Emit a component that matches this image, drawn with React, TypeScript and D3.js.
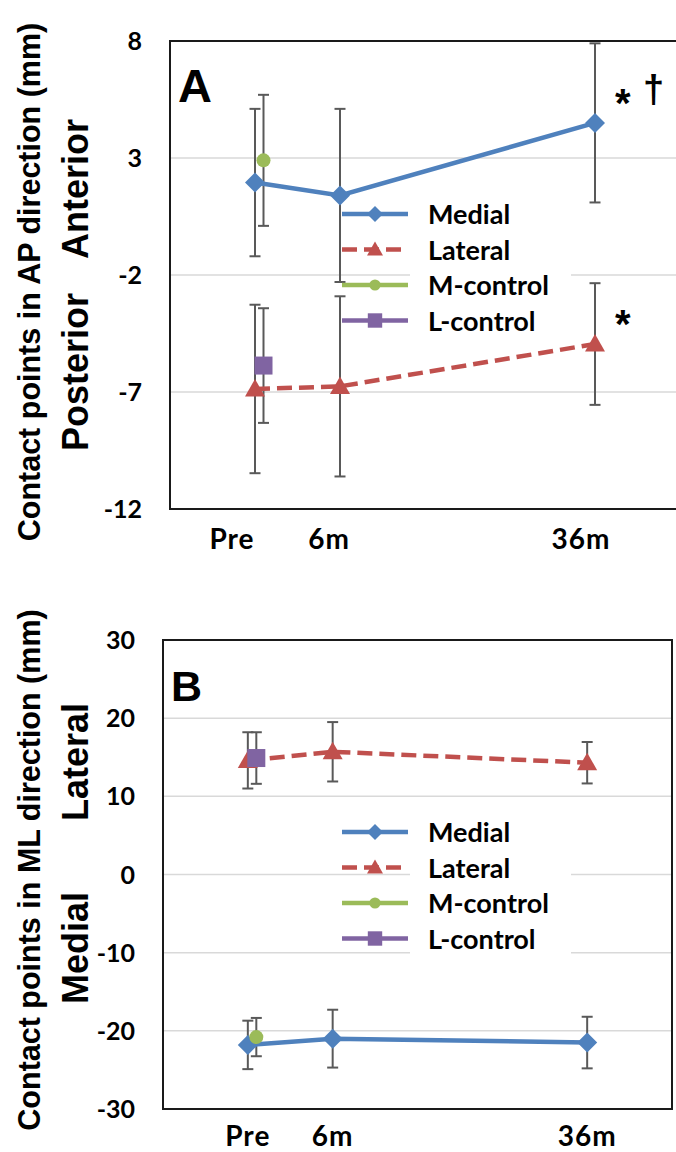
import * as d3 from "d3";

// time points: label and position on the (Excel-style) x axis
const timeLabels = ["Pre", "6m", "36m"];
const timeX = [0, 1, 4];

// panel A: AP direction (mm)
const apMedial = [1.95, 1.4, 4.5];
const apMedialErr = [3.15, 3.7, 3.4];
const apLateral = [-6.87, -6.76, -4.95];
const apLateralErr = [3.6, 3.85, 2.6];
const apMControl = [2.9];
const apMControlErr = [2.8];
const apLControl = [-5.87];
const apLControlErr = [2.45];

// panel B: ML direction (mm)
const mlMedial = [-21.8, -21.0, -21.5];
const mlMedialErr = [3.1, 3.7, 3.3];
const mlLateral = [14.6, 15.7, 14.3];
const mlLateralErr = [3.6, 3.8, 2.65];
const mlMControl = [-20.8];
const mlMControlErr = [2.45];
const mlLControl = [14.9];
const mlLControlErr = [3.3];

const legendNames = ["Medial", "Lateral", "M-control", "L-control"];
const colors = ["#4f81bd", "#c0504d", "#9bbb59", "#8064a2"];
const font = "Lato, 'Open Sans', sans-serif";
const arial = "'Liberation Sans', Arial, sans-serif";
const errColor = "#595959";
const controlShift = 0.1;

function Marker({ kind, x, y, s = 1 }: any) {
  const c = colors[kind];
  if (kind === 0) {
    const r = 10 * s;
    return <path d={`M${x},${y - r}L${x + r},${y}L${x},${y + r}L${x - r},${y}Z`} fill={c} />;
  }
  if (kind === 1) {
    const r = 10 * s;
    return <path d={`M${x},${y - r}L${x + r},${y + r * 0.75}L${x - r},${y + r * 0.75}Z`} fill={c} />;
  }
  if (kind === 2) return <circle cx={x} cy={y} r={7 * s} fill={c} />;
  const h = 9 * s;
  return <rect x={x - h} y={y - h} width={2 * h} height={2 * h} fill={c} />;
}

function Panel({ top, bottom, left, right, domain, step, letter, letterSize, series, labelDx, labelY, legendY, title, titleY, upper, lower, stars }: any) {
  const x = d3.scaleLinear().domain([-1, 5]).range([left, right]);
  const y = d3.scaleLinear().domain(domain).range([bottom, top]);
  const ticks = d3.range(domain[0], domain[1] + 0.01, step);
  const line = d3.line<[number, number]>().x((d) => x(d[0])).y((d) => y(d[1]));
  const pointsOf = (s: any, k: number): [number, number][] =>
    s.values.map((v: number, i: number) => [timeX[i] + (k >= 2 ? controlShift : 0), v]);
  return (
    <g>
      {ticks.slice(1, -1).map((t: number) => (
        <line key={t} x1={left} x2={right} y1={y(t)} y2={y(t)} stroke="#d9d9d9" strokeWidth={1.5} />
      ))}
      <rect x={left} y={top} width={right - left} height={bottom - top} fill="none" stroke="#1a1a1a" strokeWidth={2} />
      {ticks.map((t: number) => (
        <text key={t} x={left - 28} y={y(t) + 9} textAnchor="end" fontSize={25} fontWeight="bold" fontFamily={font}>
          {t}
        </text>
      ))}
      {timeLabels.map((l, i) => (
        <text key={l} x={x(timeX[i]) + labelDx[i]} y={labelY} textAnchor="middle" fontSize={28} fontWeight="bold"
          fontFamily={font} letterSpacing={1}>
          {l}
        </text>
      ))}
      <text x={left + 8} y={top + 61} fontSize={letterSize} fontWeight="bold" fontFamily={arial}>{letter}</text>
      {series.map((s: any, k: number) => (
        <g key={k} stroke={errColor} strokeWidth={2}>
          {pointsOf(s, k).map((p, i) => (
            <g key={i}>
              <line x1={x(p[0])} x2={x(p[0])} y1={y(p[1] - s.err[i])} y2={y(p[1] + s.err[i])} />
              <line x1={x(p[0]) - 5.5} x2={x(p[0]) + 5.5} y1={y(p[1] - s.err[i])} y2={y(p[1] - s.err[i])} />
              <line x1={x(p[0]) - 5.5} x2={x(p[0]) + 5.5} y1={y(p[1] + s.err[i])} y2={y(p[1] + s.err[i])} />
            </g>
          ))}
        </g>
      ))}
      {series.map((s: any, k: number) => {
        const pts = pointsOf(s, k);
        return (
          <g key={k}>
            {pts.length > 1 && (
              <path d={line(pts) || ""} fill="none" stroke={colors[k]} strokeWidth={4.5}
                strokeDasharray={k === 1 ? "15 7" : undefined} />
            )}
            {pts.map((p, i) => (
              <Marker key={i} kind={k} x={x(p[0])} y={y(p[1])} />
            ))}
          </g>
        );
      })}
      <rect x={410} y={legendY - 18} width={161} height={3 * 35.5 + 36} fill="white" />
      {legendNames.map((n, k) => (
        <g key={n}>
          <line x1={342} x2={408} y1={legendY + k * 35.5} y2={legendY + k * 35.5} stroke={colors[k]} strokeWidth={4.5}
            strokeDasharray={k === 1 ? "15 7" : undefined} />
          <Marker kind={k} x={375} y={legendY + k * 35.5} s={0.8} />
          <text x={428} y={legendY + k * 35.5 + 10} fontSize={27} fontWeight="bold" fontFamily={font}>{n}</text>
        </g>
      ))}
      <text transform={`translate(40,${titleY}) rotate(-90)`} textAnchor="middle" fontSize={30.5} fontWeight="bold" fontFamily={arial}>
        {title}
      </text>
      <text transform={`translate(88,${upper[1]}) rotate(-90)`} textAnchor="middle" fontSize={36} fontWeight="bold" fontFamily={arial}>
        {upper[0]}
      </text>
      <text transform={`translate(88,${lower[1]}) rotate(-90)`} textAnchor="middle" fontSize={36} fontWeight="bold" fontFamily={arial}>
        {lower[0]}
      </text>
      {stars.map((s: any, i: number) => (
        <text key={i} x={s[1]} y={s[2]} fontSize={s[3]} fontWeight="bold" fontFamily={arial}>{s[0]}</text>
      ))}
    </g>
  );
}

export default function App() {
  const seriesA = [
    { values: apMedial, err: apMedialErr },
    { values: apLateral, err: apLateralErr },
    { values: apMControl, err: apMControlErr },
    { values: apLControl, err: apLControlErr },
  ];
  const seriesB = [
    { values: mlMedial, err: mlMedialErr },
    { values: mlLateral, err: mlLateralErr },
    { values: mlMControl, err: mlMControlErr },
    { values: mlLControl, err: mlLControlErr },
  ];
  return (
    <svg width={676} height={1152} style={{ position: "absolute", left: 0, top: 0, background: "white" }}>
      <Panel top={41} bottom={509} left={170} right={680} domain={[-12, 8]} step={5} letter="A" letterSize={47}
        series={seriesA} labelDx={[-23, -11, -14]} labelY={549} legendY={214}
        title="Contact points in AP direction (mm)" titleY={282} upper={["Anterior", 189]} lower={["Posterior", 372]}
        stars={[["*", 615, 117, 40], ["†", 643, 102, 38], ["*", 615, 338, 40]]} />
      <Panel top={640} bottom={1109} left={163} right={672} domain={[-30, 30]} step={10} letter="B" letterSize={43}
        series={seriesB} labelDx={[0, 0, 0]} labelY={1146} legendY={832}
        title="Contact points in ML direction (mm)" titleY={870} upper={["Lateral", 762]} lower={["Medial", 948]}
        stars={[]} />
    </svg>
  );
}
